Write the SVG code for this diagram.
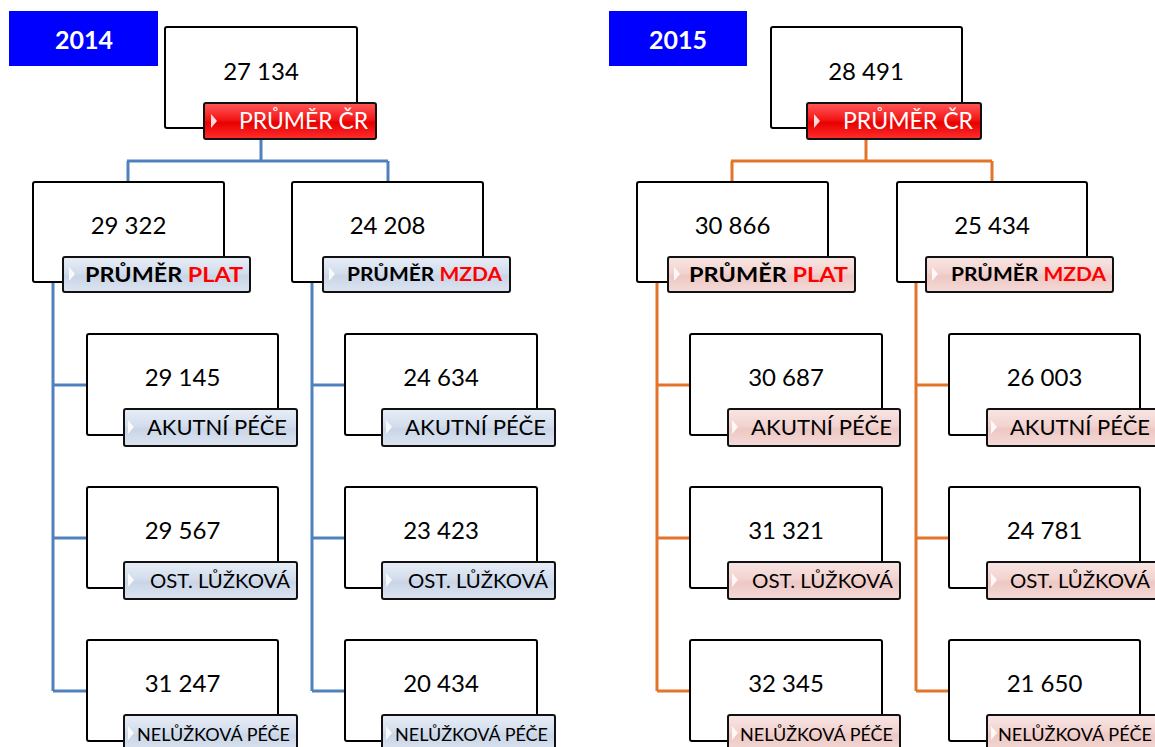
<svg xmlns="http://www.w3.org/2000/svg" width="1155" height="747" viewBox="0 0 1155 747">
<defs>
<linearGradient id="gBlue" x1="0" y1="0" x2="0" y2="1">
<stop offset="0" stop-color="#E8EEF7"/><stop offset="0.45" stop-color="#D3DDEC"/><stop offset="0.55" stop-color="#C9D5E7"/><stop offset="1" stop-color="#DCE4F0"/>
</linearGradient>
<linearGradient id="gPink" x1="0" y1="0" x2="0" y2="1">
<stop offset="0" stop-color="#F8E6E4"/><stop offset="0.45" stop-color="#F2D3D0"/><stop offset="0.55" stop-color="#EDC8C4"/><stop offset="1" stop-color="#F4DAD7"/>
</linearGradient>
<linearGradient id="gRed" x1="0" y1="0" x2="0" y2="1">
<stop offset="0" stop-color="#FF5A5A"/><stop offset="0.45" stop-color="#F51818"/><stop offset="0.55" stop-color="#E80000"/><stop offset="1" stop-color="#FF2E2E"/>
</linearGradient>
<path id="chev" d="M0,-7 L6,0 L0,7 Z"/>
</defs>
<style>
.box{fill:#fff;stroke:#000;stroke-width:2}
.lab{stroke:#111;stroke-width:2}
.lb{fill:url(#gBlue)}
.lp{fill:url(#gPink)}
.lr{fill:url(#gRed)}
.ch{fill:#fff;opacity:0.85}
.num{font-family:Lato,"Liberation Sans",sans-serif;font-size:24px;fill:#000;text-anchor:middle}
.yr{font-family:Lato,"Liberation Sans",sans-serif;font-size:25px;font-weight:bold;fill:#fff;text-anchor:middle}
.t{font-family:Lato,"Liberation Sans",sans-serif;fill:#000}
.cr{font-size:23px;fill:#fff}
.bp{font-size:21px;font-weight:bold}
.bm{font-size:19px;font-weight:bold}
.red{fill:#FF0000}
.ak{font-size:21px}
.os{font-size:19px}
.ne{font-size:18px}
.cb{fill:none;stroke:#4F81BD;stroke-width:3}
.co{fill:none;stroke:#E2742B;stroke-width:3}
</style>

<g id="connectors">
<path class="cb" d="M261,139 V161 M127,161 H388 M128,161 V182 M388,161 V182"/>
<path class="cb" d="M53,282 V691 M53,385 H87 M53,538 H87 M53,691 H87"/>
<path class="cb" d="M312,282 V691 M312,385 H345 M312,538 H345 M312,691 H345"/>
<path class="co" d="M866,139 V161 M731,161 H992 M732,161 V182 M992,161 V182"/>
<path class="co" d="M657,282 V691 M657,385 H690 M657,538 H690 M657,691 H690"/>
<path class="co" d="M916,282 V691 M916,385 H949 M916,538 H949 M916,691 H949"/>
</g>

<g id="year2014"><rect x="9" y="11" width="149" height="55" fill="#0000FF"/><text class="yr" x="84" y="49">2014</text></g>
<g id="year2015"><rect x="609" y="11" width="138" height="55" fill="#0000FF"/><text class="yr" x="678" y="49">2015</text></g>

<!-- 2014 -->
<g id="n2014_cr">
<rect class="box" x="165" y="27" width="192" height="101" rx="2"/>
<text class="num" x="261" y="80">27 134</text>
<rect class="lab lr" x="204" y="103" width="172" height="36" rx="2"/>
<use href="#chev" x="211" y="121" class="ch"/>
<text class="t cr" x="239" y="129" textLength="129" lengthAdjust="spacingAndGlyphs">PRŮMĚR ČR</text>
</g>
<g id="n2014_plat">
<rect class="box" x="33" y="182" width="191" height="100" rx="2"/>
<text class="num" x="128.5" y="234">29 322</text>
<rect class="lab lb" x="63" y="257" width="187" height="35" rx="2"/>
<use href="#chev" x="69" y="274" class="ch"/>
<text class="t bp" x="85" y="282" textLength="158" lengthAdjust="spacingAndGlyphs">PRŮMĚR <tspan class="red">PLAT</tspan></text>
</g>
<g id="n2014_mzda">
<rect class="box" x="292" y="182" width="191" height="100" rx="2"/>
<text class="num" x="387.5" y="234">24 208</text>
<rect class="lab lb" x="323" y="257" width="187" height="35" rx="2"/>
<use href="#chev" x="329" y="274" class="ch"/>
<text class="t bm" x="347" y="281" textLength="155" lengthAdjust="spacingAndGlyphs">PRŮMĚR <tspan class="red">MZDA</tspan></text>
</g>
<g id="n2014_p_ak">
<rect class="box" x="87" y="334" width="191" height="101" rx="2"/>
<text class="num" x="182.5" y="386">29 145</text>
<rect class="lab lb" x="124" y="409" width="173" height="37" rx="2"/>
<use href="#chev" x="128" y="427" class="ch"/>
<text class="t ak" x="147" y="435" textLength="140" lengthAdjust="spacingAndGlyphs">AKUTNÍ PÉČE</text>
</g>
<g id="n2014_p_os">
<rect class="box" x="87" y="487" width="191" height="101" rx="2"/>
<text class="num" x="182.5" y="539">29 567</text>
<rect class="lab lb" x="124" y="562" width="173" height="37" rx="2"/>
<use href="#chev" x="128" y="580" class="ch"/>
<text class="t os" x="150" y="588" textLength="140" lengthAdjust="spacingAndGlyphs">OST. LŮŽKOVÁ</text>
</g>
<g id="n2014_p_ne">
<rect class="box" x="87" y="640" width="191" height="101" rx="2"/>
<text class="num" x="182.5" y="692">31 247</text>
<rect class="lab lb" x="124" y="715" width="173" height="37" rx="2"/>
<use href="#chev" x="128" y="733" class="ch"/>
<text class="t ne" x="137" y="741" textLength="153" lengthAdjust="spacingAndGlyphs">NELŮŽKOVÁ PÉČE</text>
</g>
<g id="n2014_m_ak">
<rect class="box" x="345" y="334" width="192" height="101" rx="2"/>
<text class="num" x="441" y="386">24 634</text>
<rect class="lab lb" x="382" y="409" width="173" height="37" rx="2"/>
<use href="#chev" x="386" y="427" class="ch"/>
<text class="t ak" x="405" y="435" textLength="141" lengthAdjust="spacingAndGlyphs">AKUTNÍ PÉČE</text>
</g>
<g id="n2014_m_os">
<rect class="box" x="345" y="487" width="192" height="101" rx="2"/>
<text class="num" x="441" y="539">23 423</text>
<rect class="lab lb" x="382" y="562" width="173" height="37" rx="2"/>
<use href="#chev" x="386" y="580" class="ch"/>
<text class="t os" x="408" y="588" textLength="140" lengthAdjust="spacingAndGlyphs">OST. LŮŽKOVÁ</text>
</g>
<g id="n2014_m_ne">
<rect class="box" x="345" y="640" width="192" height="101" rx="2"/>
<text class="num" x="441" y="692">20 434</text>
<rect class="lab lb" x="382" y="715" width="173" height="37" rx="2"/>
<use href="#chev" x="386" y="733" class="ch"/>
<text class="t ne" x="395" y="741" textLength="153" lengthAdjust="spacingAndGlyphs">NELŮŽKOVÁ PÉČE</text>
</g>

<!-- 2015 -->
<g id="n2015_cr">
<rect class="box" x="771" y="27" width="191" height="101" rx="2"/>
<text class="num" x="866" y="80">28 491</text>
<rect class="lab lr" x="807" y="103" width="174" height="36" rx="2"/>
<use href="#chev" x="814" y="121" class="ch"/>
<text class="t cr" x="843" y="129" textLength="130" lengthAdjust="spacingAndGlyphs">PRŮMĚR ČR</text>
</g>
<g id="n2015_plat">
<rect class="box" x="637" y="182" width="191" height="100" rx="2"/>
<text class="num" x="732.5" y="234">30 866</text>
<rect class="lab lp" x="668" y="257" width="187" height="35" rx="2"/>
<use href="#chev" x="674" y="274" class="ch"/>
<text class="t bp" x="689" y="282" textLength="159" lengthAdjust="spacingAndGlyphs">PRŮMĚR <tspan class="red">PLAT</tspan></text>
</g>
<g id="n2015_mzda">
<rect class="box" x="897" y="182" width="190" height="100" rx="2"/>
<text class="num" x="992" y="234">25 434</text>
<rect class="lab lp" x="926" y="257" width="187" height="35" rx="2"/>
<use href="#chev" x="932" y="274" class="ch"/>
<text class="t bm" x="951" y="281" textLength="155" lengthAdjust="spacingAndGlyphs">PRŮMĚR <tspan class="red">MZDA</tspan></text>
</g>
<g id="n2015_p_ak">
<rect class="box" x="690" y="334" width="192" height="101" rx="2"/>
<text class="num" x="786" y="386">30 687</text>
<rect class="lab lp" x="728" y="409" width="172" height="37" rx="2"/>
<use href="#chev" x="732" y="427" class="ch"/>
<text class="t ak" x="751" y="435" textLength="141" lengthAdjust="spacingAndGlyphs">AKUTNÍ PÉČE</text>
</g>
<g id="n2015_p_os">
<rect class="box" x="690" y="487" width="192" height="101" rx="2"/>
<text class="num" x="786" y="539">31 321</text>
<rect class="lab lp" x="728" y="562" width="172" height="37" rx="2"/>
<use href="#chev" x="732" y="580" class="ch"/>
<text class="t os" x="752" y="588" textLength="141" lengthAdjust="spacingAndGlyphs">OST. LŮŽKOVÁ</text>
</g>
<g id="n2015_p_ne">
<rect class="box" x="690" y="640" width="192" height="101" rx="2"/>
<text class="num" x="786" y="692">32 345</text>
<rect class="lab lp" x="728" y="715" width="172" height="37" rx="2"/>
<use href="#chev" x="732" y="733" class="ch"/>
<text class="t ne" x="740" y="741" textLength="153" lengthAdjust="spacingAndGlyphs">NELŮŽKOVÁ PÉČE</text>
</g>
<g id="n2015_m_ak">
<rect class="box" x="949" y="334" width="191" height="101" rx="2"/>
<text class="num" x="1044.5" y="386">26 003</text>
<rect class="lab lp" x="987" y="409" width="173" height="37" rx="2"/>
<use href="#chev" x="991" y="427" class="ch"/>
<text class="t ak" x="1010" y="435" textLength="140" lengthAdjust="spacingAndGlyphs">AKUTNÍ PÉČE</text>
</g>
<g id="n2015_m_os">
<rect class="box" x="949" y="487" width="191" height="101" rx="2"/>
<text class="num" x="1044.5" y="539">24 781</text>
<rect class="lab lp" x="987" y="562" width="173" height="37" rx="2"/>
<use href="#chev" x="991" y="580" class="ch"/>
<text class="t os" x="1010" y="588" textLength="140" lengthAdjust="spacingAndGlyphs">OST. LŮŽKOVÁ</text>
</g>
<g id="n2015_m_ne">
<rect class="box" x="949" y="640" width="191" height="101" rx="2"/>
<text class="num" x="1044.5" y="692">21 650</text>
<rect class="lab lp" x="987" y="715" width="173" height="37" rx="2"/>
<use href="#chev" x="991" y="733" class="ch"/>
<text class="t ne" x="998" y="741" textLength="154" lengthAdjust="spacingAndGlyphs">NELŮŽKOVÁ PÉČE</text>
</g>
</svg>
